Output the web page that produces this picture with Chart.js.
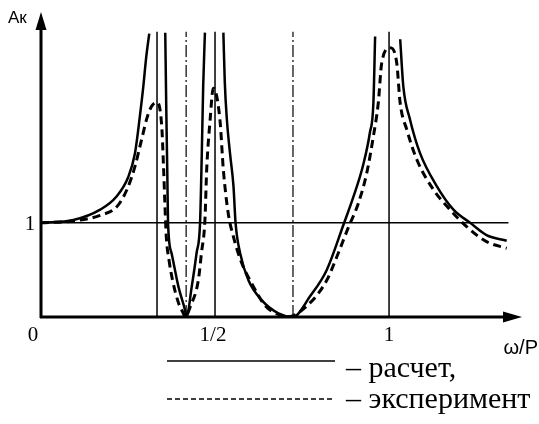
<!DOCTYPE html>
<html>
<head>
<meta charset="utf-8">
<script src="https://cdn.jsdelivr.net/npm/chart.js@4/dist/chart.umd.min.js"></script>
<style>
  body { margin: 0; background: #fff; }
  canvas { display: block; }
</style>
</head>
<body>
<canvas id="akChart" width="539" height="424"></canvas>
<script>
// calculated curve (расчет), null = break at the asymptote
const calcW = [0, 0.093, 0.17, 0.217, 0.251, 0.27, 0.284, 0.294, 0.302, 0.311,
  0.311,
  0.357, 0.36, 0.363, 0.365, 0.375, 0.395, 0.414, 0.418, 0.433, 0.447, 0.457, 0.462, 0.466, 0.471,
  0.471,
  0.524, 0.528, 0.534, 0.543, 0.553, 0.559, 0.572, 0.596, 0.634, 0.682, 0.724, 0.773, 0.821, 0.869, 0.898, 0.926, 0.945, 0.955, 0.96,
  0.96,
  1.032, 1.041, 1.06, 1.089, 1.137, 1.185, 1.233, 1.28, 1.338];
const calcA = [1.0, 1.03, 1.14, 1.28, 1.49, 1.74, 2.13, 2.45, 2.75, 3.01,
  null,
  3.02, 2.2, 1.5, 1.0, 0.68, 0.32, 0.07, 0.0, 0.32, 0.68, 1.0, 1.74, 2.45, 3.02,
  null,
  3.02, 2.5, 2.1, 1.74, 1.39, 1.0, 0.68, 0.39, 0.18, 0.04, 0.0, 0.22, 0.5, 0.98, 1.28, 1.62, 1.96, 2.27, 2.98,
  null,
  2.95, 2.45, 2.1, 1.74, 1.39, 1.14, 1.0, 0.87, 0.81];

// experiment (эксперимент)
const expW = [0, 0.093, 0.17, 0.22, 0.25, 0.27, 0.29, 0.305, 0.318, 0.333, 0.347, 0.352, 0.356, 0.36, 0.368,
  0.378, 0.395, 0.41, 0.413, 0.43, 0.452, 0.461, 0.471, 0.476, 0.486, 0.495, 0.514, 0.524, 0.538, 0.553,
  0.577, 0.605, 0.644, 0.68, 0.706, 0.773, 0.821, 0.85, 0.883, 0.912, 0.936, 0.955, 0.969, 0.979, 1.003,
  1.022, 1.032, 1.051, 1.08, 1.128, 1.175, 1.223, 1.28, 1.338];
const expA = [1.0, 1.02, 1.08, 1.18, 1.38, 1.6, 1.9, 2.12, 2.24, 2.28, 2.02, 1.6, 1.2, 0.85, 0.6,
  0.39, 0.15, 0.03, 0.0, 0.12, 0.39, 0.68, 1.03, 1.56, 2.1, 2.43, 2.1, 1.56, 1.1, 0.85,
  0.57, 0.36, 0.12, 0.03, 0.0, 0.15, 0.39, 0.64, 0.95, 1.21, 1.53, 1.92, 2.27, 2.7, 2.86,
  2.7, 2.27, 1.99, 1.67, 1.35, 1.14, 0.96, 0.8, 0.73];

// reference lines
const resonances = [1 / 3, 1 / 2, 1];
const antiResonances = [0.417, 0.724];
const refTop = 3.03;
const unitLineEnd = 1.343;

// ticks
const tickValues = [0, 0.5, 1];
const tickLabels = ['0', '1/2', '1'];
const yTickValues = [1];
const yTickLabels = ['1'];

const xMax = 1.382;
const yMax = 3.25;

function toPoints(ws, as) {
  return ws.map((w, i) => ({ x: w, y: as[i] }));
}

const datasets = [
  {
    label: 'расчет',
    data: toPoints(calcW, calcA),
    borderColor: '#000',
    borderWidth: 2.5,
    cubicInterpolationMode: 'monotone',
    spanGaps: false
  },
  {
    label: 'эксперимент',
    data: toPoints(expW, expA),
    borderColor: '#000',
    borderWidth: 3,
    borderDash: [8, 5],
    cubicInterpolationMode: 'monotone'
  },
  {
    label: 'unit',
    data: [{ x: 0, y: 1 }, { x: unitLineEnd, y: 1 }],
    borderColor: '#000',
    borderWidth: 1.5
  }
];
resonances.forEach(w => {
  datasets.push({
    label: 'res',
    data: [{ x: w, y: 0 }, { x: w, y: refTop }],
    borderColor: '#000',
    borderWidth: 1.5
  });
});
antiResonances.forEach(w => {
  datasets.push({
    label: 'anti',
    data: [{ x: w, y: 0 }, { x: w, y: refTop }],
    borderColor: '#000',
    borderWidth: 1.2,
    borderDash: [12, 3, 2, 3]
  });
});

// axes with arrows, tick labels and the legend under the plot
const axesPlugin = {
  id: 'axesPlugin',
  afterDatasetsDraw(chart) {
    const ctx = chart.ctx;
    const xs = chart.scales.x;
    const ys = chart.scales.y;
    const x0 = xs.getPixelForValue(0);
    const y0 = ys.getPixelForValue(0);
    const xEnd = xs.getPixelForValue(xMax);
    const yEnd = ys.getPixelForValue(yMax);

    ctx.save();
    ctx.strokeStyle = '#000';
    ctx.fillStyle = '#000';
    ctx.lineWidth = 3;
    ctx.setLineDash([]);

    // y axis
    ctx.beginPath();
    ctx.moveTo(x0, y0 + 1);
    ctx.lineTo(x0, yEnd + 16);
    ctx.stroke();
    ctx.beginPath();
    ctx.moveTo(x0, yEnd + 1);
    ctx.lineTo(x0 - 5.5, yEnd + 19);
    ctx.lineTo(x0 + 5.5, yEnd + 19);
    ctx.closePath();
    ctx.fill();

    // x axis
    ctx.beginPath();
    ctx.moveTo(x0 - 1, y0);
    ctx.lineTo(xEnd - 16, y0);
    ctx.stroke();
    ctx.beginPath();
    ctx.moveTo(xEnd, y0);
    ctx.lineTo(xEnd - 19, y0 - 5.5);
    ctx.lineTo(xEnd - 19, y0 + 5.5);
    ctx.closePath();
    ctx.fill();

    // tick labels
    ctx.font = '21px "Liberation Serif", serif';
    ctx.textAlign = 'center';
    ctx.textBaseline = 'alphabetic';
    tickValues.forEach((v, i) => {
      let px = xs.getPixelForValue(v);
      if (v === 0) px -= 8;
      if (v === 0.5) px -= 2;
      ctx.fillText(tickLabels[i], px, y0 + 24);
    });
    yTickValues.forEach((v, i) => {
      ctx.fillText(yTickLabels[i], x0 - 11, ys.getPixelForValue(v) + 7);
    });

    // axis titles
    ctx.font = '17px "Liberation Sans", sans-serif';
    ctx.textAlign = 'left';
    ctx.fillText('Aк', 8, 23);
    ctx.font = '20px "Liberation Sans", sans-serif';
    ctx.textAlign = 'right';
    ctx.fillText('ω/P', 538, 354);

    // legend
    ctx.lineWidth = 1.5;
    ctx.beginPath();
    ctx.moveTo(167, 361);
    ctx.lineTo(335, 361);
    ctx.stroke();
    ctx.setLineDash([5, 3]);
    ctx.beginPath();
    ctx.moveTo(167, 399);
    ctx.lineTo(335, 399);
    ctx.stroke();
    ctx.setLineDash([]);
    ctx.font = '30px "Liberation Serif", serif';
    ctx.textAlign = 'left';
    ctx.fillText('– расчет,', 346, 377);
    ctx.fillText('– эксперимент', 346, 408);
    ctx.restore();
  }
};

new Chart(document.getElementById('akChart'), {
  type: 'line',
  data: { datasets: datasets },
  options: {
    responsive: false,
    animation: false,
    layout: { padding: { left: 41, right: 17, top: 11, bottom: 107 } },
    elements: { point: { radius: 0 } },
    scales: {
      x: { type: 'linear', min: 0, max: xMax, display: false },
      y: { type: 'linear', min: 0, max: yMax, display: false }
    },
    plugins: {
      legend: { display: false },
      tooltip: { enabled: false }
    }
  },
  plugins: [axesPlugin]
});
</script>
</body>
</html>
